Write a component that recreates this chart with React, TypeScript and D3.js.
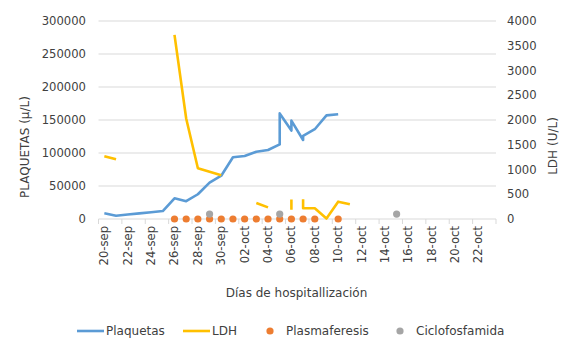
import React from "react";
import * as d3 from "d3";

// ---- data ----
const fechas = [
  "09-20", "09-21", "09-22", "09-23", "09-24", "09-25", "09-26", "09-27", "09-28", "09-29",
  "09-30", "10-01", "10-02", "10-03", "10-04", "10-05", "10-05", "10-06", "10-06", "10-07",
  "10-07", "10-07", "10-08", "10-09", "10-10", "10-11", "10-15",
];
const plaquetas: (number | null)[] = [
  8600, 5000, 6800, 8500, 10200, 12000, 31300, 27000, 37500, 55000,
  65600, 93500, 95500, 102000, 104500, 113000, 160000, 134000, 149000, 119700,
  126000, 126000, 136000, 157000, 158600, null, null,
];
const ldh: (number | null)[] = [
  1270, 1205, null, null, null, null, 3720, 2030, 1025, 955,
  885, null, null, 325, 235, null, null, 395, 185, null,
  398, 216, 216, 10, 350, 297, null,
];
const plasmaferesis: (number | null)[] = [
  null, null, null, null, null, null, 0, 0, 0, 0,
  0, 0, 0, 0, 0, 0, null, 0, null, 0,
  null, null, 0, null, 0, null, null,
];
const ciclofosfamida: (number | null)[] = [
  null, null, null, null, null, null, null, null, null, 100,
  null, null, null, null, null, 100, null, null, null, null,
  null, null, null, null, null, null, 100,
];
const leftTicks = [0, 50000, 100000, 150000, 200000, 250000, 300000];
const rightTicks = [0, 500, 1000, 1500, 2000, 2500, 3000, 3500, 4000];
const startDate = "09-20";
const endDate = "10-24";

const parse = d3.timeParse("%m-%d");
const es = d3.timeFormatLocale({
  dateTime: "%x %X", date: "%d/%m/%Y", time: "%H:%M:%S", periods: ["AM", "PM"],
  days: ["domingo", "lunes", "martes", "miércoles", "jueves", "viernes", "sábado"],
  shortDays: ["dom", "lun", "mar", "mié", "jue", "vie", "sáb"],
  months: ["enero", "febrero", "marzo", "abril", "mayo", "junio", "julio", "agosto", "septiembre", "octubre", "noviembre", "diciembre"],
  shortMonths: ["ene", "feb", "mar", "abr", "may", "jun", "jul", "ago", "sep", "oct", "nov", "dic"],
});
const fmt = es.format("%d-%b");

const W = 580, H = 357;
const L = 98.5, R = 496, T = 21, B = 219;
const FONT = "'DejaVu Sans', Verdana, sans-serif";
const C_PLAQ = "#5B9BD5", C_LDH = "#FFC000", C_PLAS = "#ED7D31", C_CICLO = "#A5A5A5";

export default function App() {
  const d0 = parse(startDate)!;
  const d1 = parse(endDate)!;
  const x = d3.scaleTime().domain([d0, d1]).range([L, R]);
  const yL = d3.scaleLinear().domain([0, 300000]).range([B, T]);
  const yR = d3.scaleLinear().domain([0, 4000]).range([B, T]);
  const xc = (i: number) => x(d3.timeHour.offset(parse(fechas[i])!, 12));

  const idx = fechas.map((_, i) => i);
  const linePlaq = d3.line<number>().defined((i) => plaquetas[i] != null)
    .x(xc).y((i) => yL(plaquetas[i] as number))(idx) || "";
  const lineLdh = d3.line<number>().defined((i) => ldh[i] != null)
    .x(xc).y((i) => yR(ldh[i] as number))(idx) || "";

  const days = d3.timeDay.range(d0, d3.timeDay.offset(d1, 1));
  const tickDays = days.filter((_, i) => i % 2 === 0);
  const labelDays = d3.timeDay.range(d0, d1).filter((_, i) => i % 2 === 0);

  return (
    <svg width={W} height={H} style={{ position: "absolute", left: 0, top: 0, background: "#fff" }} fontFamily={FONT}>
      <rect width={W} height={H} fill="#fff" />
      {leftTicks.map((t) => (
        <g key={t}>
          <line x1={L} x2={R} y1={yL(t)} y2={yL(t)} stroke="#D9D9D9" strokeWidth={1} />
          <text x={86} y={yL(t)} textAnchor="end" dominantBaseline="central" fontSize={11.6} fill="#404040">{t}</text>
        </g>
      ))}
      {rightTicks.map((t) => (
        <text key={t} x={507} y={yR(t)} textAnchor="start" dominantBaseline="central" fontSize={11.6} fill="#404040">{t}</text>
      ))}
      {tickDays.map((d, i) => (
        <line key={i} x1={x(d)} x2={x(d)} y1={B} y2={B + 5} stroke="#D9D9D9" strokeWidth={1} />
      ))}
      {labelDays.map((d, i) => {
        const cx = x(d3.timeHour.offset(d, 12));
        return (
          <text key={i} transform={`translate(${cx},${226}) rotate(-90)`} textAnchor="end" dominantBaseline="central" fontSize={11.6} fill="#404040">{fmt(d)}</text>
        );
      })}
      <path d={linePlaq} fill="none" stroke={C_PLAQ} strokeWidth={2.6} strokeLinejoin="round" />
      <path d={lineLdh} fill="none" stroke={C_LDH} strokeWidth={2.6} strokeLinejoin="round" />
      {idx.filter((i) => plasmaferesis[i] != null).map((i) => (
        <circle key={"p" + i} cx={xc(i)} cy={yR(plasmaferesis[i] as number)} r={3.6} fill={C_PLAS} />
      ))}
      {idx.filter((i) => ciclofosfamida[i] != null).map((i) => (
        <circle key={"c" + i} cx={xc(i)} cy={yR(ciclofosfamida[i] as number)} r={3.6} fill={C_CICLO} />
      ))}
      <text transform={`translate(25,147) rotate(-90)`} textAnchor="middle" dominantBaseline="central" fontSize={12} fill="#404040">PLAQUETAS (µ/L)</text>
      <text transform={`translate(553,146) rotate(-90)`} textAnchor="middle" dominantBaseline="central" fontSize={12} fill="#404040">LDH (U/L)</text>
      <text x={296.5} y={293} textAnchor="middle" dominantBaseline="central" fontSize={12} fill="#404040">Días de hospitallización</text>
      <g fontSize={12} fill="#404040">
        <line x1={77} x2={104} y1={331} y2={331} stroke={C_PLAQ} strokeWidth={2.6} />
        <text x={106} y={331} dominantBaseline="central">Plaquetas</text>
        <line x1={183} x2={210} y1={331} y2={331} stroke={C_LDH} strokeWidth={2.6} />
        <text x={212} y={331} dominantBaseline="central">LDH</text>
        <circle cx={270} cy={331} r={3.6} fill={C_PLAS} />
        <text x={286} y={331} dominantBaseline="central">Plasmaferesis</text>
        <circle cx={400} cy={331} r={3.6} fill={C_CICLO} />
        <text x={416} y={331} dominantBaseline="central">Ciclofosfamida</text>
      </g>
    </svg>
  );
}
